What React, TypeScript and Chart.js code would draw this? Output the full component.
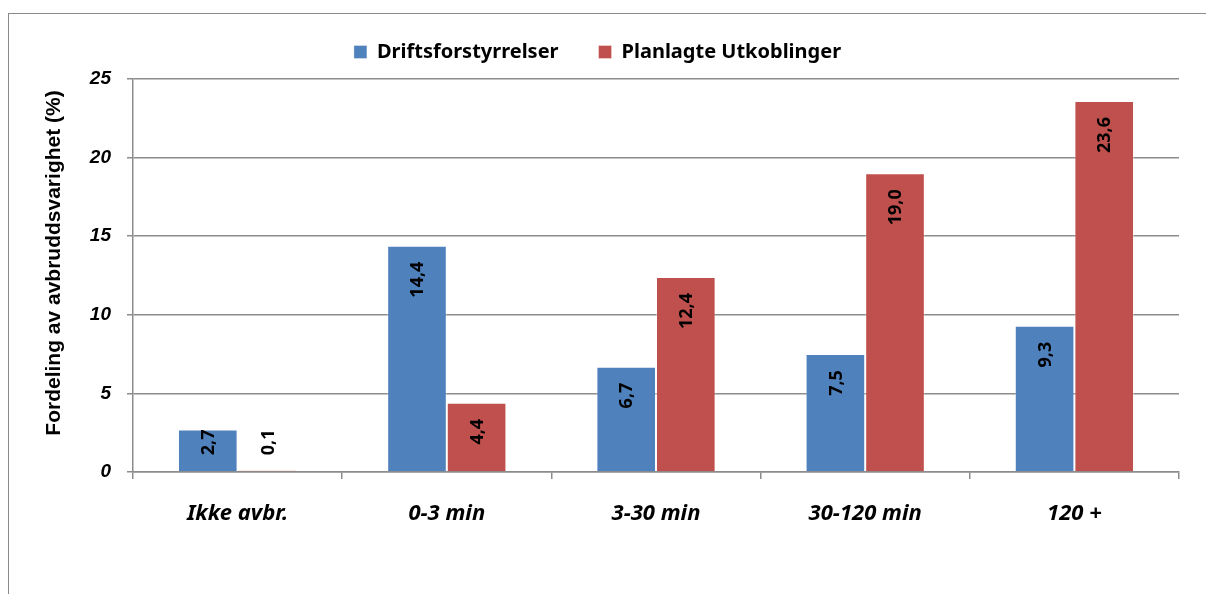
import React, { useEffect, useRef } from 'react';
import { Chart, registerables } from 'chart.js';

Chart.register(...registerables);

const categories = ['Ikke avbr.', '0-3 min', '3-30 min', '30-120 min', '120 +'];
const seriesNames = ['Driftsforstyrrelser', 'Planlagte Utkoblinger'];
const driftsforstyrrelser = [2.7, 14.4, 6.7, 7.5, 9.3];
const planlagteUtkoblinger = [0.1, 4.4, 12.4, 19.0, 23.6];
const yTickValues = [0, 5, 10, 15, 20, 25];
const yAxisTitle = 'Fordeling av avbruddsvarighet (%)';

const GRID = '#8c8c8c';
const SANS = '"Noto Sans"';

export default function App() {
  const ref = useRef<HTMLCanvasElement>(null);

  useEffect(() => {
    const canvas = ref.current;
    if (!canvas) return;
    const fmt = (v: number) => v.toFixed(1).replace('.', ',');

    const legendFix = {
      id: 'legendFix',
      beforeInit(chart: any) {
        const legend = chart.legend;
        if (!legend) return;
        const origFit = legend.fit;
        legend.fit = function () {
          origFit.call(this);
          this.height = 79;
        };
        const origDraw = legend.draw;
        legend.draw = function () {
          const ctx = this.ctx;
          ctx.save();
          ctx.translate(8, 2);
          origDraw.call(this);
          ctx.restore();
        };
      },
    };

    const labelsPlugin = {
      id: 'barLabels',
      afterDatasetsDraw(chart: any) {
        const ctx = chart.ctx;
        ctx.save();
        ctx.font = `bold 18px ${SANS}`;
        ctx.fillStyle = '#000';
        ctx.textAlign = 'center';
        ctx.textBaseline = 'middle';
        chart.data.datasets.forEach((ds: any, di: number) => {
          const meta = chart.getDatasetMeta(di);
          meta.data.forEach((el: any, i: number) => {
            const text = fmt(ds.data[i]);
            const w = ctx.measureText(text).width;
            const top = Math.min(el.y + 16, el.base - w - 16);
            ctx.save();
            ctx.translate(el.x, top + w / 2);
            ctx.rotate(-Math.PI / 2);
            ctx.fillText(text, 0, 1);
            ctx.restore();
          });
        });
        ctx.restore();
      },
    };

    const yTitlePlugin = {
      id: 'yTitle',
      afterDraw(chart: any) {
        const ctx = chart.ctx;
        ctx.save();
        ctx.font = 'bold 21px "Liberation Sans"';
        ctx.fillStyle = '#000';
        ctx.textAlign = 'center';
        ctx.textBaseline = 'middle';
        ctx.translate(54, 263);
        ctx.rotate(-Math.PI / 2);
        ctx.fillText(yAxisTitle, 0, 0);
        ctx.restore();
      },
    };

    const chart = new Chart(canvas, {
      type: 'bar',
      data: {
        labels: categories,
        datasets: [
          {
            label: seriesNames[0],
            data: driftsforstyrrelser,
            backgroundColor: '#4f81bd',
            borderColor: 'rgba(255,255,255,0.35)',
            borderWidth: 1,
          },
          {
            label: seriesNames[1],
            data: planlagteUtkoblinger,
            backgroundColor: '#c0504d',
            borderColor: 'rgba(255,255,255,0.35)',
            borderWidth: 1,
          },
        ],
      },
      options: {
        animation: false,
        responsive: false,
        maintainAspectRatio: false,
        devicePixelRatio: 1,
        layout: { padding: { left: 0, right: 27, top: 0, bottom: 0 } },
        datasets: {
          bar: { barPercentage: 1, categoryPercentage: 0.57 },
        },
        plugins: {
          tooltip: { enabled: false },
          legend: {
            display: true,
            position: 'top',
            labels: {
              boxWidth: 13,
              boxHeight: 13,
              padding: 40,
              color: '#000',
              font: { family: SANS, size: 20, weight: 'bold' },
            },
          },
        },
        scales: {
          x: {
            type: 'category',
            offset: true,
            grid: {
              offset: true,
              drawOnChartArea: false,
              drawTicks: true,
              tickLength: 7,
              color: GRID,
              lineWidth: 1.5,
            },
            border: { display: true, color: GRID, width: 1.5 },
            ticks: {
              color: '#000',
              padding: 22,
              font: { family: SANS, size: 22, weight: 'bold', style: 'italic' },
            },
            afterFit: (s: any) => {
              s.height = 122;
            },
          },
          y: {
            min: 0,
            max: 25,
            afterBuildTicks: (s: any) => {
              s.ticks = yTickValues.map((v) => ({ value: v }));
            },
            grid: {
              color: GRID,
              lineWidth: 1.5,
              drawTicks: true,
              tickLength: 6,
            },
            border: { display: true, color: GRID, width: 1.5 },
            ticks: {
              color: '#000',
              padding: 16,
              font: { family: '"Liberation Sans"', size: 19, weight: 'bold', style: 'italic' },
            },
            afterFit: (s: any) => {
              s.width = 133;
            },
          },
        },
      },
      plugins: [legendFix, labelsPlugin, yTitlePlugin],
    } as any);

    return () => chart.destroy();
  }, []);

  return (
    <div style={{ position: 'fixed', left: 0, top: 0, width: 1206, height: 594, background: '#fff', overflow: 'hidden' }}>
      <div
        style={{
          position: 'absolute',
          left: 8,
          top: 12.5,
          width: 1400,
          height: 800,
          borderLeft: '1.5px solid #8a8a8a',
          borderTop: '1.5px solid #8a8a8a',
        }}
      />
      <canvas ref={ref} width={1206} height={594} style={{ position: 'absolute', left: 0, top: 0, width: 1206, height: 594 }} />
    </div>
  );
}
